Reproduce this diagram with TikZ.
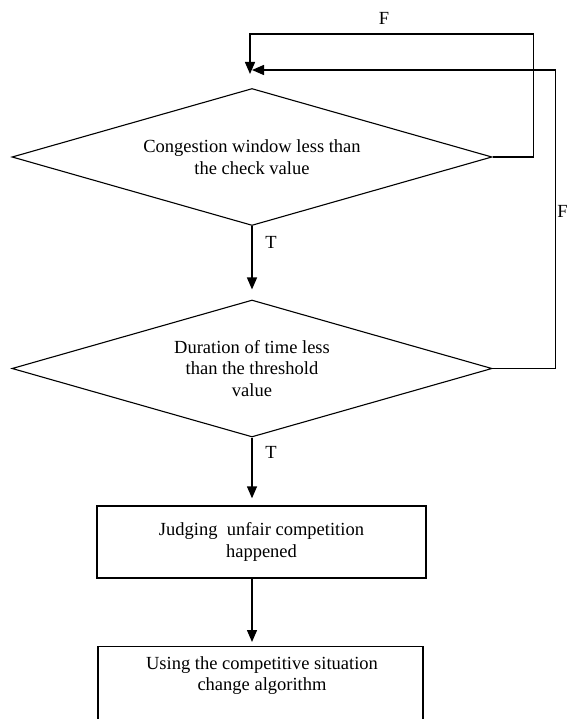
\documentclass[tikz,border=0pt]{standalone}
\usepackage{fontspec}
\setmainfont{Liberation Serif}
\usetikzlibrary{shapes.geometric,arrows.meta}
\begin{document}
\begin{tikzpicture}[x=1pt,y=-1pt,
  every node/.style={font=\fontsize{18.5}{21.5}\selectfont},
  arr/.style={line width=1.4pt, -{Triangle[width=10pt,length=12pt]}},
  dec/.style={draw, line width=1.1pt, shape=diamond, aspect=3.5, inner sep=0pt,
    minimum width=480pt, minimum height=137pt, align=center},
  proc/.style={draw, line width=1.4pt, rectangle, align=center}]
\useasboundingbox (0,0) rectangle (569,719);
\node[dec] (d1) at (252,157) {Congestion window less than\\the check value};
\node[dec] (d2) at (252,368.5) {Duration of time less\\than the threshold\\value};
\node[proc, minimum width=329pt, minimum height=72pt] (b1) at (261.5,542) {Judging\ \ unfair competition\\happened};
\node[proc, minimum width=325pt, minimum height=100pt, anchor=north] (b2) at (260.5,646) {};
\node[align=center, anchor=north] (b2t) at (262,653) {Using the competitive situation\\change algorithm};
\coordinate (m1) at (250,74);
\coordinate (m2) at (252,70);
\draw[arr] (d1.east) -- ++(41,0) |- (250,34) -- (m1);
\draw[arr] (d2.east) -- ++(63,0) |- (m2);
\draw[arr, shorten >=10pt] (d1.south) -- (d2.north);
\draw[arr, shorten >=7pt] (d2.south) -- (d2.south |- b1.north);
\draw[arr, shorten >=4pt] (b1.south -| d2.south) -- (b2.north -| d2.south);
\node (f1) at (384,18) {F};
\node (f2) at (562.5,211) {F};
\node (t1) at (271,242) {T};
\node (t2) at (271,452) {T};
\end{tikzpicture}
\end{document}
